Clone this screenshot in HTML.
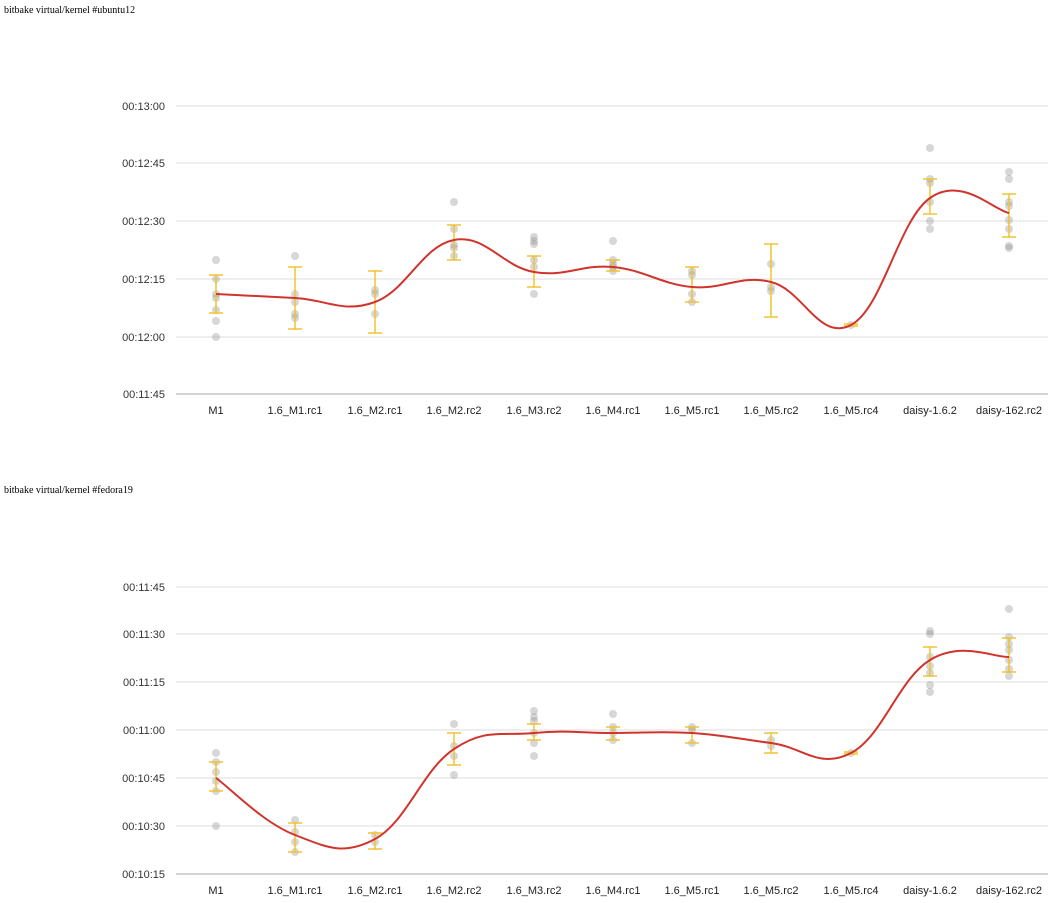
<!DOCTYPE html>
<html><head><meta charset="utf-8"><style>
html,body{margin:0;padding:0;background:#fff;width:1055px;height:903px;overflow:hidden}
.t{position:absolute;left:4px;font:10px "Liberation Serif",serif;color:#000}
svg{position:absolute;left:0;top:0}
</style></head><body>
<div class="t" style="top:5px">bitbake virtual/kernel #ubuntu12</div>
<div class="t" style="top:485px">bitbake virtual/kernel #fedora19</div>
<svg id="s" width="1055" height="903" xmlns="http://www.w3.org/2000/svg" font-family="Liberation Sans, sans-serif" font-size="11"></svg>
<script>
const X=[216,295,375,454,534,613,692,771,851,930,1009];
const L=["M1","1.6_M1.rc1","1.6_M2.rc1","1.6_M2.rc2","1.6_M3.rc2","1.6_M4.rc1","1.6_M5.rc1","1.6_M5.rc2","1.6_M5.rc4","daisy-1.6.2","daisy-162.rc2"];
const charts=[
{grid:[106,163,221,279,337],axis:394,labs:["00:13:00","00:12:45","00:12:30","00:12:15","00:12:00","00:11:45"],xl:410,
 mean:[294,298,302,240,272,267,287,282,325,198,213],
 err:[[275,313],[267,329],[271,333],[225,260],[256,287],[260,271],[267,302],[244,317],[324,326],[179,214],[194,237]],
 dots:[[260,279,294,298,310,321,337],[256,294,302,314,318],[290,294,314],[202,229,245,248,256],[237,241,244,260,267,294],[241,260,264,267,271],[271,275,294,302],[264,287,291],[325],[148,179,183,202,221,229],[172,179,202,206,220,229,246,248]]},
{grid:[587,634,682,730,778,826],axis:874,labs:["00:11:45","00:11:30","00:11:15","00:11:00","00:10:45","00:10:30","00:10:15"],xl:890,
 mean:[778,835,839,749,733,733,733,743,753,660,657],
 err:[[762,791],[823,852],[833,849],[733,765],[724,740],[727,740],[727,743],[733,753],[752,754],[647,676],[638,672]],
 dots:[[753,762,772,781,791,826],[820,832,842,852],[835,842],[724,746,756,775],[711,717,721,733,743,756],[714,727,733,740],[727,730,743],[740,746],[753],[631,634,657,666,673,685,692],[609,637,644,650,660,669,676]]}];
let h="";
for(const c of charts){
 const all=c.grid.concat([c.axis]);
 c.grid.forEach(y=>h+=`<line x1="176" x2="1048" y1="${y}" y2="${y}" stroke="#ddd" stroke-width="1"/>`);
 h+=`<line x1="176" x2="1048" y1="${c.axis}" y2="${c.axis}" stroke="#aaa" stroke-width="1"/>`;
 all.forEach((y,i)=>h+=`<text x="165" y="${y+4}" text-anchor="end" fill="#333" font-size="11">${c.labs[i]}</text>`);
 X.forEach((x,i)=>h+=`<text x="${x}" y="${c.xl+4}" text-anchor="middle" fill="#222">${L[i]}</text>`);
 c.dots.forEach((d,i)=>d.forEach(y=>h+=`<circle cx="${X[i]}" cy="${y}" r="4" fill="rgba(140,140,140,0.35)"/>`));
 c.err.forEach((e,i)=>{const x=X[i];h+=`<g stroke="#f1c232" stroke-width="1.5"><line x1="${x}" x2="${x}" y1="${e[0]}" y2="${e[1]}"/><line x1="${x-7}" x2="${x+7}" y1="${e[0]}" y2="${e[0]}"/><line x1="${x-7}" x2="${x+7}" y1="${e[1]}" y2="${e[1]}"/></g>`});
 const P=X.map((x,i)=>[x,c.mean[i]]);
 let d=`M${P[0][0]},${P[0][1]}`;
 for(let i=0;i<P.length-1;i++){const p0=P[i-1]||P[i],p1=P[i],p2=P[i+1],p3=P[i+2]||P[i+1];const t=0.2;
  d+=` C${p1[0]+(p2[0]-p0[0])*t},${p1[1]+(p2[1]-p0[1])*t} ${p2[0]-(p3[0]-p1[0])*t},${p2[1]-(p3[1]-p1[1])*t} ${p2[0]},${p2[1]}`;}
 h+=`<path d="${d}" fill="none" stroke="#d0342c" stroke-width="2"/>`;
}
document.getElementById("s").innerHTML=h;
</script>
</body></html>
